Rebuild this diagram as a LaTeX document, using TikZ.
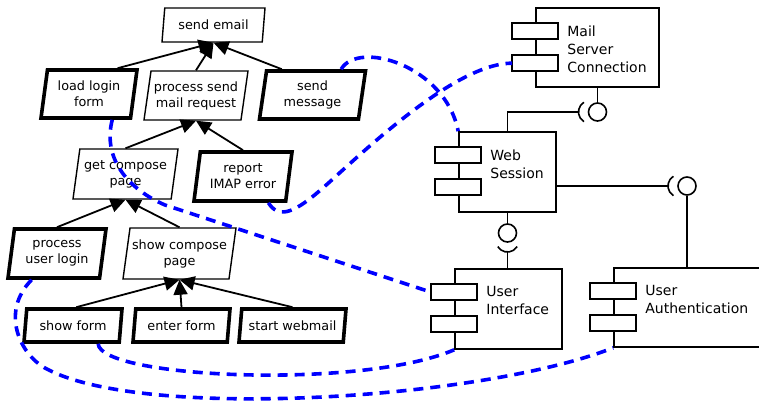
\documentclass[tikz,border=0pt]{standalone}
\usepackage{fontspec}
\setmainfont{DejaVu Sans}
\usetikzlibrary{shapes.geometric}
\usetikzlibrary{arrows.meta}
\usetikzlibrary{positioning}

\begin{document}
\begin{tikzpicture}
[x=1pt,y=-1pt,%
  task/.style={trapezium,trapezium left angle=77,trapezium right angle=103,trapezium stretches body,draw,line width=1.4pt,align=center,inner sep=1pt,font=\fontsize{12.8}{16}\selectfont},%
  leaf/.style={task,line width=3.6pt},%
  isa/.style={-{Triangle[length=15pt,width=14pt]},line width=1.8pt},%
  comp/.style={draw,line width=1.6pt,inner sep=0pt},%
  port/.style={draw,fill=white,line width=1.6pt,minimum width=46pt,minimum height=16pt,inner sep=0pt,outer sep=0pt},%
  compText/.style={align=left,inner sep=0pt,font=\fontsize{14}{18}\selectfont},%
  ball/.style={circle,draw,line width=1.6pt,minimum size=18pt,inner sep=0pt},%
  wire/.style={line width=1.6pt},%
  dep/.style={blue,line width=3.6pt,dash pattern=on 10pt off 7pt}]
\useasboundingbox (0,0) rectangle (759,404);
%% task tree
\foreach \nodename/\x/\y/\w/\h/\kind/\txt in {
  email/213.5/25/103/34/task/{send email},
  loadlogin/89/94/96/48/leaf/{load login\\form},
  procsend/196/95.5/104/49/task/{process send\\mail request},
  sendmsg/312.5/95/106/48/leaf/{send\\message},
  getcomp/125.5/174/105/50/task/{get compose\\page},
  imaperr/243/176.5/98/49/leaf/{report\\IMAP error},
  procuser/57/253.5/98/49/leaf/{process\\user login},
  showcomp/179.5/253.5/113/51/task/{show compose\\page},
  showform/73/325.5/98/33/leaf/{show form},
  enterform/181.5/325.5/97/33/leaf/{enter form},
  startweb/292.5/325.5/107/33/leaf/{start webmail}}
{
  \node[\kind,minimum width=\w pt,minimum height=\h pt] (\nodename) at (\x,\y) {\txt};
}
\foreach \child/\ang/\parent in {
  loadlogin/42/email, procsend/90/email, sendmsg/140/email,
  getcomp/90/procsend, imaperr/90/procsend,
  procuser/90/getcomp, showcomp/90/getcomp,
  showform/80/showcomp, enterform/90/showcomp, startweb/90/showcomp}
  \draw[isa] (\child.\ang) -- (\parent.south);
%% components
\node[comp,minimum width=123pt,minimum height=79pt] (msc) at (597.5,47.5) {};
\node[comp,minimum width=97pt,minimum height=80pt] (ws) at (507.5,172) {};
\node[comp,minimum width=107pt,minimum height=80pt] (ui) at (508.5,309) {};
\node[comp,minimum width=176pt,minimum height=79pt] (ua) at (702,307.5) {};
\foreach \c in {msc,ws,ui,ua}
{
  \node[port,below=16pt of \c.north west] (\c1) {};
  \node[port,below=16pt of \c1] (\c2) {};
}
\node[compText,below right] at ([shift={(32,18)}]msc.north west) {Mail\\Server\\Connection};
\node[compText,below right] at ([shift={(32,18)}]ws.north west) {Web\\Session};
\node[compText,below right] at ([shift={(32,18)}]ui.north west) {User\\Interface};
\node[compText,below right] at ([shift={(32,18)}]ua.north west) {User\\Authentication};
%% interfaces
\node[ball] (b1) at (597.5,112) {};
\node[ball] (b2) at (687,186) {};
\node[ball] (b3) at (507.5,233) {};
\coordinate (s1) at ([shift={(-19,0)}]b1.center);
\coordinate (s2) at ([shift={(-19,0)}]b2.center);
\coordinate (s3) at ([shift={(0,19)}]b3.center);
\draw[wire] (msc.south) -- (b1);
\draw[wire] (ws.south) -- (b3);
\draw[wire] (b2) -- (b2 |- ua.north);
\draw[wire] (ws.north) |- (s1);
\draw[wire] (s2 -| ws.east) -- (s2);
\draw[wire] (s3) -- (s3 |- ui.north);
\draw[wire] ([shift={(-7.5,0)}]b1.center) ++(122:11.5pt) arc[start angle=122,end angle=238,radius=11.5pt];
\draw[wire] ([shift={(-7.5,0)}]b2.center) ++(122:11.5pt) arc[start angle=122,end angle=238,radius=11.5pt];
\draw[wire] ([shift={(0,7.5)}]b3.center) ++(212:11.5pt) arc[start angle=212,end angle=328,radius=11.5pt];
%% dependencies
\draw[dep] (loadlogin.-48) .. controls (102,160) and (130,190) .. (165,205) -- (ui1.west);
\draw[dep] (sendmsg.42) .. controls (358,40) and (445,65) .. (ws.north west);
\draw[dep] (imaperr.-46) .. controls (278,218) and (292,214) .. (317,193)
  .. controls (345,170) and (450,63) .. (msc2.west);
\draw[dep] (procuser.-134) .. controls (0,312) and (20,354) .. (45,368)
  .. controls (140,421) and (480,400) .. (ua.south west);
\draw[dep] (showform.-36) .. controls (100,378) and (360,390) .. (ui.south west);
\end{tikzpicture}
\end{document}
